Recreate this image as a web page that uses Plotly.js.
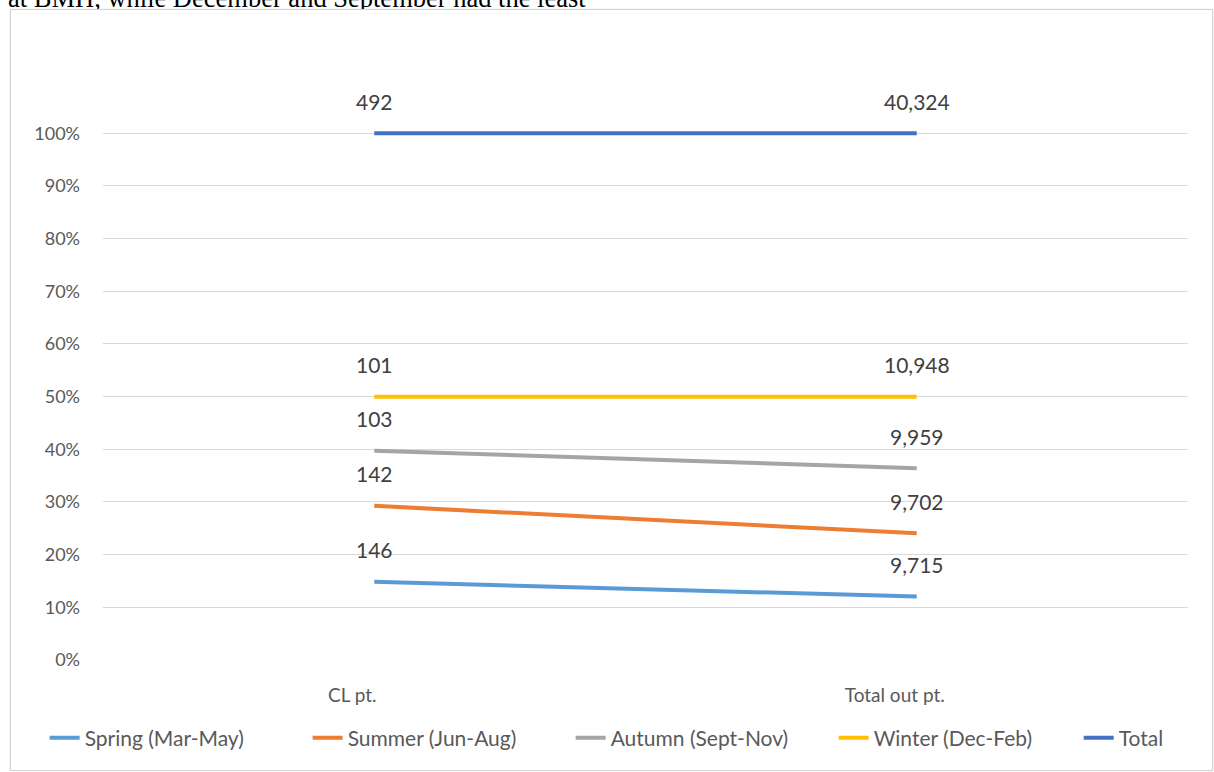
<!DOCTYPE html>
<html>
<head>
<meta charset="utf-8">
<script src="https://cdn.plot.ly/plotly-3.0.1.min.js"></script>
<style>
  html, body { margin: 0; padding: 0; background: #ffffff; width: 1214px; height: 772px; overflow: hidden; }
  #doctext { position: absolute; left: 8px; top: -15px; font-family: "Liberation Serif", "Times New Roman", serif; font-size: 26.5px; line-height: 26px; color: #000; white-space: nowrap; }
  #frame { position: absolute; left: 10px; top: 9px; width: 1201px; height: 760px; border: 1px solid #d4d4d4; box-shadow: 0 0 2px rgba(0,0,0,0.08); background: #fff; }
  #chart { width: 1201px; height: 760px; }
</style>
</head>
<body>
<div id="doctext">at BMH, while December and September had the least</div>
<div id="frame"><div id="chart"></div></div>
<script>
// ---- data ----
const categories = ['CL pt.', 'Total out pt.'];
const springCounts = [146, 9715];
const summerCounts = [142, 9702];
const autumnCounts = [103, 9959];
const winterCounts = [101, 10948];
const totalCounts = [492, 40324];
const seriesNames = ['Spring (Mar-May)', 'Summer (Jun-Aug)', 'Autumn (Sept-Nov)', 'Winter (Dec-Feb)', 'Total'];
const yTickLabels = ['0%', '10%', '20%', '30%', '40%', '50%', '60%', '70%', '80%', '90%', '100%'];

// ---- styles ----
const seriesColors = ['#5B9BD5', '#ED7D31', '#A5A5A5', '#FFC000', '#4472C4'];
const allSeries = [springCounts, summerCounts, autumnCounts, winterCounts, totalCounts];
const FONT = 'Lato, "Open Sans", sans-serif';

const traces = allSeries.map((vals, k) => ({
  type: 'scatter',
  mode: 'lines',
  name: seriesNames[k],
  x: categories,
  y: vals,
  stackgroup: 'one',
  groupnorm: k === 0 ? 'percent' : undefined,
  fill: 'none',
  legend: k === 4 ? 'legend2' : 'legend',
  line: { color: seriesColors[k], width: 4, shape: 'linear' },
  hovertemplate: '%{x}: %{text}<extra>' + seriesNames[k] + '</extra>',
  text: vals.map(v => v.toLocaleString('en-US'))
}));

// data labels, placed at the stacked (100%-normalised) position of each point
const annotations = [];
categories.forEach((cat, i) => {
  const grand = allSeries.reduce((s, arr) => s + arr[i], 0);
  let cum = 0;
  allSeries.forEach((arr, k) => {
    cum += arr[i];
    annotations.push({
      x: cat, y: cum / grand * 100, xref: 'x', yref: 'y',
      text: arr[i].toLocaleString('en-US'),
      showarrow: false, yshift: 32,
      font: { family: FONT, size: 21, color: '#404040' }
    });
  });
});

const legendFont = { family: FONT, size: 21, color: '#595959' };

const layout = {
  width: 1201, height: 760,
  margin: { l: 92, r: 24, t: 117.7, b: 110, pad: 0 },
  paper_bgcolor: '#ffffff', plot_bgcolor: '#ffffff',
  font: { family: FONT, color: '#595959', size: 18 },
  showlegend: true,
  legend: {
    orientation: 'h', xref: 'container', yref: 'container',
    x: 0.028, xanchor: 'left', y: 0.042, yanchor: 'middle',
    font: legendFont, traceorder: 'normal',
    entrywidth: 218, entrywidthmode: 'pixels', tracegroupgap: 0
  },
  legend2: {
    orientation: 'h', xref: 'container', yref: 'container',
    x: 0.889, xanchor: 'left', y: 0.042, yanchor: 'middle',
    font: legendFont, traceorder: 'normal'
  },
  xaxis: {
    type: 'category', range: [-0.5, 1.5], showgrid: false, zeroline: false, showline: false,
    ticks: '', ticklabelstandoff: 22, ticklabelshift: -22,
    tickfont: { family: FONT, size: 19, color: '#595959' }, fixedrange: true
  },
  yaxis: {
    range: [0, 101], tickmode: 'array', tickvals: [0,10,20,30,40,50,60,70,80,90,100], ticktext: yTickLabels,
    showgrid: true, gridcolor: '#d9d9d9', gridwidth: 1, zeroline: false, showline: false,
    ticks: '', ticklabelstandoff: 22, tickfont: { family: FONT, size: 18, color: '#595959' }, fixedrange: true
  },
  annotations: annotations
};

Plotly.newPlot('chart', traces, layout, { displayModeBar: false });
</script>
</body>
</html>
